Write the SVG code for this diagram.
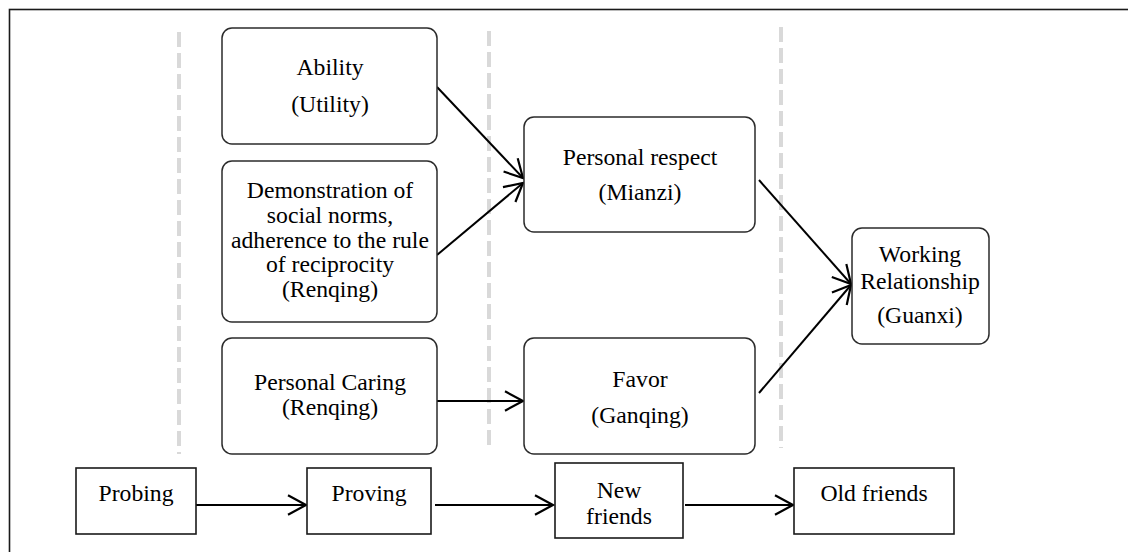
<svg xmlns="http://www.w3.org/2000/svg" width="1128" height="552" viewBox="0 0 1128 552">
<style>
text{font-family:"Liberation Serif","Times New Roman",serif;font-size:23.7px;fill:#000;text-anchor:middle}
.rb{fill:#fff;stroke:#2b2b2b;stroke-width:1.5}
.sb{fill:#fff;stroke:#1a1a1a;stroke-width:1.6}
.dash{stroke:#d9d9d9;stroke-width:4;stroke-dasharray:15 6;fill:none}
.c{stroke:#000;stroke-width:2;fill:none;marker-end:url(#arr)}
</style>
<defs>
<marker id="arr" markerUnits="userSpaceOnUse" markerWidth="24" markerHeight="24" viewBox="-21 -12 24 24" refX="0" refY="0" orient="auto" overflow="visible">
<path d="M-18,-9.7 L0,0 L-18,9.7" fill="none" stroke="#000" stroke-width="2.2"/>
</marker>
</defs>
<rect x="0" y="0" width="1128" height="552" fill="#fff"/>
<rect x="9.5" y="9.5" width="1140" height="570" fill="none" stroke="#1a1a1a" stroke-width="1.6"/>
<g id="phase-dividers">
<line class="dash" x1="179" y1="32" x2="179" y2="454"/>
<line class="dash" x1="489" y1="31" x2="489" y2="451"/>
<line class="dash" x1="781" y1="27" x2="781" y2="448"/>
</g>
<g id="connectors">
<line class="c" x1="437" y1="87" x2="523" y2="178"/>
<line class="c" x1="437" y1="255" x2="523" y2="183"/>
<line class="c" x1="759" y1="180" x2="851" y2="284"/>
<line class="c" x1="759" y1="393" x2="851" y2="285"/>
<line class="c" x1="437" y1="401" x2="523" y2="401"/>
<line class="c" x1="196" y1="505" x2="306" y2="505"/>
<line class="c" x1="435" y1="505" x2="553" y2="505"/>
<line class="c" x1="685" y1="505" x2="793" y2="505"/>
</g>
<g id="ability">
<rect class="rb" x="222" y="28" width="215" height="116" rx="10"/>
<text x="330" y="75">Ability</text>
<text x="330" y="112">(Utility)</text>
</g>
<g id="demonstration">
<rect class="rb" x="222" y="161" width="215" height="161" rx="10"/>
<text x="330" y="198">Demonstration of</text>
<text x="330" y="223">social norms,</text>
<text x="330" y="248">adherence to the rule</text>
<text x="330" y="272">of reciprocity</text>
<text x="330" y="297">(Renqing)</text>
</g>
<g id="personal-caring">
<rect class="rb" x="222" y="338" width="215" height="116" rx="10"/>
<text x="330" y="390">Personal Caring</text>
<text x="330" y="415">(Renqing)</text>
</g>
<g id="personal-respect">
<rect class="rb" x="524" y="117" width="231" height="115" rx="10"/>
<text x="640" y="165">Personal respect</text>
<text x="640" y="200">(Mianzi)</text>
</g>
<g id="favor">
<rect class="rb" x="524" y="338" width="231" height="116" rx="10"/>
<text x="640" y="387">Favor</text>
<text x="640" y="423">(Ganqing)</text>
</g>
<g id="working-relationship">
<rect class="rb" x="852" y="228" width="137" height="116" rx="10"/>
<text x="920" y="262">Working</text>
<text x="920" y="289">Relationship</text>
<text x="920" y="323">(Guanxi)</text>
</g>
<g id="probing">
<rect class="sb" x="76" y="468" width="120" height="66"/>
<text x="136" y="501">Probing</text>
</g>
<g id="proving">
<rect class="sb" x="307" y="468" width="124" height="66"/>
<text x="369" y="501">Proving</text>
</g>
<g id="new-friends">
<rect class="sb" x="555" y="463" width="128" height="75"/>
<text x="619" y="498">New</text>
<text x="619" y="524">friends</text>
</g>
<g id="old-friends">
<rect class="sb" x="794" y="468" width="160" height="66"/>
<text x="874" y="501">Old friends</text>
</g>
</svg>
